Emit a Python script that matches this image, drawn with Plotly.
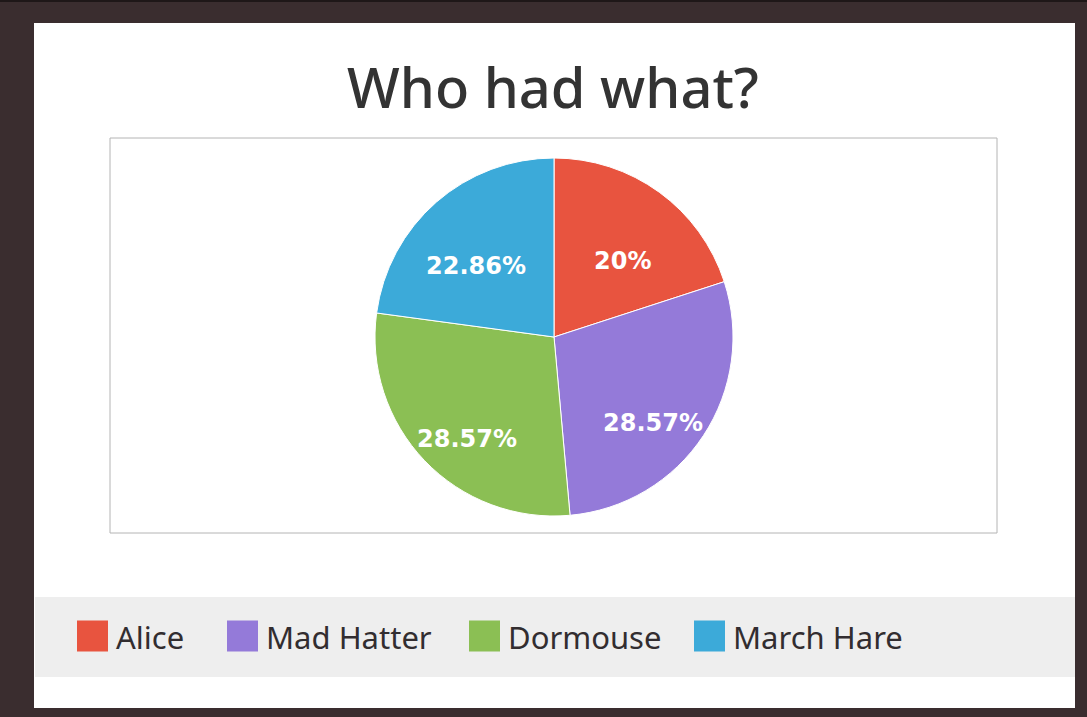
import math
import plotly.graph_objects as go

# --- data -------------------------------------------------------------
names = ["Alice", "Mad Hatter", "Dormouse", "March Hare"]
counts = [7, 10, 10, 8]
colors = ["#e8543f", "#947ad9", "#8bbf54", "#3caad9"]

total = sum(counts)
pct_text = [f"{round(v / total * 100, 2):g}%" for v in counts]

# --- page geometry (pixels) --------------------------------------------
W, H = 1087, 717


def px(x):
    return x / W


def py(y):
    return 1 - y / H


panel = (34, 23, 1075, 708)          # white card
plot_box = (110, 138, 997, 533)      # bordered plot area
legend_band = (35, 597, 1075, 677)   # grey legend strip
pie_box = (375, 158, 733, 516)       # pie bounding square
legend_x = [77, 227, 469, 694]       # left edge of each legend swatch
swatch = 31
legend_cy = 636

# percentage labels: radial placement as a fraction of the radius,
# plus a small angular nudge away from each slice's mid-angle (degrees)
label_r = [0.575, 0.73, 0.745, 0.59]
label_nudge = [5.4, 7.0, -5.6, -6.2]

fig = go.Figure(
    go.Pie(
        labels=names,
        values=counts,
        textinfo="none",
        marker=dict(colors=colors, line=dict(color="white", width=1)),
        sort=False,
        direction="clockwise",
        rotation=0,
        showlegend=False,
        hoverinfo="label+value+percent",
        domain=dict(x=[px(pie_box[0]), px(pie_box[2])], y=[py(pie_box[3]), py(pie_box[1])]),
    )
)

shapes = [
    dict(type="rect", xref="paper", yref="paper", layer="below",
         x0=px(panel[0]), x1=px(panel[2]), y0=py(panel[3]), y1=py(panel[1]),
         fillcolor="white", line=dict(width=0)),
    dict(type="rect", xref="paper", yref="paper", layer="below",
         x0=px(plot_box[0]), x1=px(plot_box[2]), y0=py(plot_box[3]), y1=py(plot_box[1]),
         fillcolor="white", line=dict(color="#b4b4b4", width=1)),
    dict(type="rect", xref="paper", yref="paper", layer="below",
         x0=px(legend_band[0]), x1=px(legend_band[2]), y0=py(legend_band[3]), y1=py(legend_band[1]),
         fillcolor="#eeeeee", line=dict(width=0)),
    dict(type="rect", xref="paper", yref="paper", layer="below",
         x0=0, x1=1, y0=py(2), y1=1, fillcolor="#1e1718", line=dict(width=0)),
]

annotations = []

# slice labels, placed from the cumulative slice angles
cx = (pie_box[0] + pie_box[2]) / 2
cy = (pie_box[1] + pie_box[3]) / 2
radius = (pie_box[2] - pie_box[0]) / 2
start = 0.0
for v, txt, rf, nudge in zip(counts, pct_text, label_r, label_nudge):
    sweep = v / total * 360
    theta = math.radians(start + sweep / 2 + nudge)
    lx = cx + rf * radius * math.sin(theta)
    ly = cy - rf * radius * math.cos(theta)
    annotations.append(dict(text=txt, xref="paper", yref="paper",
                            x=px(lx), y=py(ly + 1), xanchor="center", yanchor="middle",
                            showarrow=False,
                            font=dict(family="DejaVu Sans", size=24, color="white",
                                      weight="bold")))
    start += sweep

# legend: swatch + name
for name, color, x0 in zip(names, colors, legend_x):
    shapes.append(dict(type="rect", xref="paper", yref="paper",
                       x0=px(x0), x1=px(x0 + swatch),
                       y0=py(legend_cy + swatch / 2), y1=py(legend_cy - swatch / 2),
                       fillcolor=color, line=dict(width=0)))
    annotations.append(dict(text=name, xref="paper", yref="paper",
                            x=px(x0 + swatch + 6), y=py(legend_cy + 1),
                            xanchor="left", yanchor="middle", showarrow=False,
                            font=dict(family="Noto Sans", size=31, color="#322d30")))

fig.update_layout(
    width=W,
    height=H,
    margin=dict(l=0, r=0, t=0, b=0),
    paper_bgcolor="#3a2d2f",
    plot_bgcolor="#3a2d2f",
    title=dict(text="Who had what?", x=px(553), xanchor="center", xref="paper",
               y=py(88), yanchor="middle", yref="paper",
               font=dict(family="Noto Sans", size=56, color="#333333", weight=500)),
    shapes=shapes,
    annotations=annotations,
)

fig.write_html("out.html")
